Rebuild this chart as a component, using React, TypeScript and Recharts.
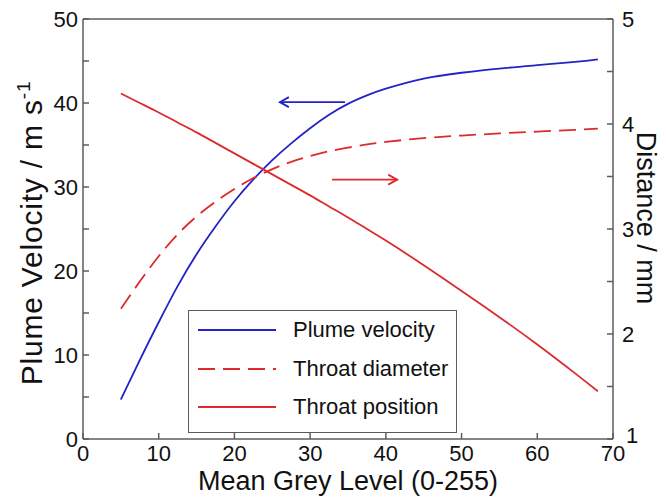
import { LineChart, Line, XAxis, YAxis, ReferenceLine, Legend } from "recharts"

// Mean grey level samples (x)
const greyLevel = [5, 7.5, 10, 12.5, 15, 17.5, 20, 22.5, 25, 27.5, 30, 32.5, 35, 37.5, 40, 45, 50, 55, 60, 65, 68]
// left axis, m/s
const plumeVelocity = [4.7, 9.4, 13.9, 18.2, 22.0, 25.3, 28.3, 30.9, 33.2, 35.2, 37.0, 38.6, 39.9, 40.9, 41.7, 42.9, 43.6, 44.1, 44.5, 44.9, 45.2]
// right axis, mm
const throatDiameter = [2.24, 2.50, 2.74, 2.95, 3.12, 3.26, 3.38, 3.485, 3.57, 3.64, 3.695, 3.74, 3.775, 3.805, 3.83, 3.865, 3.89, 3.91, 3.928, 3.945, 3.955]
const throatPosition = [4.29, 4.20, 4.11, 4.015, 3.92, 3.82, 3.72, 3.62, 3.52, 3.42, 3.32, 3.215, 3.11, 3.0, 2.89, 2.655, 2.41, 2.16, 1.90, 1.625, 1.455]

const xTicks = [0, 10, 20, 30, 40, 50, 60, 70]
const leftTicks = [0, 5, 10, 15, 20, 25, 30, 35, 40, 45, 50]
const rightTicks = [1, 1.5, 2, 2.5, 3, 3.5, 4, 4.5, 5]

// annotation arrows (start -> head)
const velocityArrow = [{ x: 34.6, y: 40.1 }, { x: 26.0, y: 40.1 }]
const distanceArrow = [{ x: 32.9, y: 3.47 }, { x: 41.5, y: 3.47 }]

const BLUE = "#2323c6"
const RED = "#dd2a2c"
const AXIS = "#5c5c5c"
const FONT = "'Liberation Sans', Arial, sans-serif"

const velocityData = greyLevel.map((x, i) => ({ x, y: plumeVelocity[i] }))
const diameterData = greyLevel.map((x, i) => ({ x, y: throatDiameter[i] }))
const positionData = greyLevel.map((x, i) => ({ x, y: throatPosition[i] }))

const Arrow = (props: any) => {
    const { x1, y1, x2, y2, stroke } = props
    const dir = x2 > x1 ? 1 : -1
    return (
        <g>
            <line x1={x1} y1={y1} x2={x2} y2={y2} stroke={stroke} strokeWidth={1.8} />
            <polyline points={`${x2 - dir * 9},${y2 - 5} ${x2},${y2} ${x2 - dir * 9},${y2 + 5}`}
                fill="none" stroke={stroke} strokeWidth={1.8} />
        </g>
    )
}

const LeftTitle = () => (
    <text transform="rotate(-90)" x={-233} y={42} textAnchor="middle" fontSize={30} letterSpacing={0.8} fontFamily={FONT} fill="#111">
        Plume Velocity / m s<tspan fontSize={19} dy={-12}>-1</tspan>
    </text>
)

const RightTitle = () => (
    <text transform="rotate(90)" x={218} y={-637} textAnchor="middle" fontSize={27} fontFamily={FONT} fill="#111">
        Distance / mm
    </text>
)

const BottomTitle = () => (
    <text x={348} y={490} textAnchor="middle" fontSize={27} fontFamily={FONT} fill="#111">
        Mean Grey Level (0-255)
    </text>
)

// right axis labels, integers only; the bottom "1" sits a little raised as in the figure
const RightTick = (props: any) => {
    const { x, y, payload } = props
    const v = payload.value
    if (!Number.isInteger(v)) return null
    const dx = v === 1 ? 4 : 0
    const dy = v === 1 ? -4 : 0
    return (
        <text x={x + dx} y={y + dy} dy="0.355em" textAnchor="start" fontSize={22} fontFamily={FONT} fill="#111">
            {v}
        </text>
    )
}

const LegendBox = (props: any) => {
    const { payload } = props
    return (
        <div style={{ width: 269, height: 123, border: `1px solid ${AXIS}`, background: "#fff", position: "relative", boxSizing: "border-box", fontFamily: FONT }}>
            {(payload || []).map((entry: any, i: number) => (
                <div key={entry.value} style={{ position: "absolute", left: 0, top: 19 + i * 38.5 - 12, height: 24, width: 269 }}>
                    <svg width={80} height={24} style={{ position: "absolute", left: 9, top: 0 }}>
                        <line x1={0} y1={12} x2={78} y2={12} stroke={entry.color} strokeWidth={1.8}
                            strokeDasharray={entry.payload?.strokeDasharray} />
                    </svg>
                    <span style={{ position: "absolute", left: 104, top: 0, lineHeight: "24px", fontSize: 22, color: "#111", whiteSpace: "nowrap" }}>
                        {entry.value}
                    </span>
                </div>
            ))}
        </div>
    )
}

const tenLabel = (v: number) => (v % 10 === 0 ? String(v) : "")

export default function App() {
    const tickStyle = { fontSize: 22, fill: "#111", fontFamily: FONT }
    const axisLine = { stroke: AXIS, strokeWidth: 1.5 }
    return (
        <div style={{ position: "absolute", left: 0, top: 0, background: "#fff" }}>
            <LineChart width={666} height={499} margin={{ top: 0, right: 0, bottom: 0, left: 0 }} style={{ fontFamily: FONT }}>
                <XAxis xAxisId="bottom" dataKey="x" type="number" domain={[0, 70]} ticks={xTicks} interval={0}
                    height={60} tickSize={-6} tickMargin={12} tick={tickStyle}
                    axisLine={axisLine} tickLine={axisLine} label={<BottomTitle />} />
                <XAxis xAxisId="top" orientation="top" dataKey="x" type="number" domain={[0, 70]} ticks={xTicks} interval={0}
                    height={19} tickSize={-6} tick={false} axisLine={axisLine} tickLine={axisLine} />
                <YAxis yAxisId="left" type="number" domain={[0, 50]} ticks={leftTicks} interval={0}
                    width={83} tickSize={-6} tickMargin={11} tick={tickStyle} tickFormatter={tenLabel}
                    axisLine={axisLine} tickLine={axisLine} label={<LeftTitle />} />
                <YAxis yAxisId="right" orientation="right" type="number" domain={[1, 5]} ticks={rightTicks} interval={0}
                    width={53} tickSize={-6} tickMargin={15} tick={<RightTick />}
                    axisLine={axisLine} tickLine={axisLine} label={<RightTitle />} />
                <Line name="Plume velocity" data={velocityData} dataKey="y" xAxisId="bottom" yAxisId="left"
                    type="natural" stroke={BLUE} strokeWidth={1.8} dot={false} isAnimationActive={false} />
                <Line name="Throat diameter" data={diameterData} dataKey="y" xAxisId="bottom" yAxisId="right"
                    type="natural" stroke={RED} strokeWidth={1.8} strokeDasharray="17 8" dot={false} isAnimationActive={false} />
                <Line name="Throat position" data={positionData} dataKey="y" xAxisId="bottom" yAxisId="right"
                    type="natural" stroke={RED} strokeWidth={1.8} dot={false} isAnimationActive={false} />
                <ReferenceLine xAxisId="bottom" yAxisId="left" segment={velocityArrow} stroke={BLUE} shape={Arrow} />
                <ReferenceLine xAxisId="bottom" yAxisId="right" segment={distanceArrow} stroke={RED} shape={Arrow} />
                <Legend layout="horizontal" verticalAlign="middle" align="center" content={<LegendBox />}
                    wrapperStyle={{ left: 188, top: 310, width: 269, height: 123 }} />
            </LineChart>
        </div>
    )
}
